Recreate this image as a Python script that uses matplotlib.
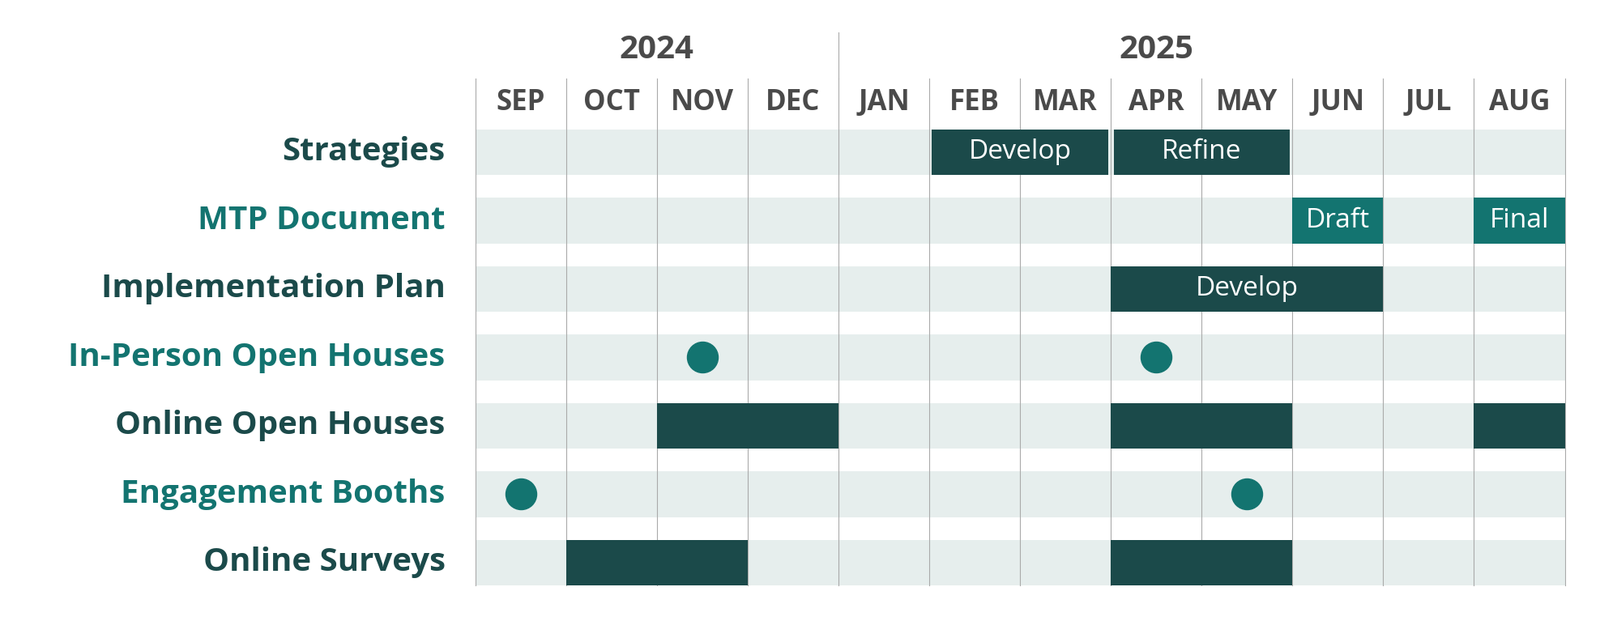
import matplotlib
matplotlib.use("Agg")
import matplotlib.pyplot as plt
from matplotlib.patches import Rectangle

months = ["SEP","OCT","NOV","DEC","JAN","FEB","MAR","APR","MAY","JUN","JUL","AUG"]
years = [("2024", 0, 4), ("2025", 4, 12)]
rows = ["Strategies","MTP Document","Implementation Plan","In-Person Open Houses",
        "Online Open Houses","Engagement Booths","Online Surveys"]
row_colors = ["dark","teal","dark","teal","dark","teal","dark"]
# bars: (row, start, end, label, color)
bars = [(0, 5, 7, "Develop", "dark"), (0, 7, 9, "Refine", "dark"),
        (1, 9, 10, "Draft", "teal"), (1, 11, 12, "Final", "teal"),
        (2, 7, 10, "Develop", "dark"),
        (4, 2, 4, "", "dark"), (4, 7, 9, "", "dark"), (4, 11, 12, "", "dark"),
        (6, 1, 3, "", "dark"), (6, 7, 9, "", "dark")]
dots = [(3, 2.5), (3, 7.5), (5, 0.5), (5, 8.5)]

C = {"dark": "#1b4a4a", "teal": "#137470"}
BAND = "#e6eeed"
GRID = "#aaaaaa"
TXT = "#4a4a4a"
FONT = "Open Sans"

fig = plt.figure(figsize=(19.75, 7.67), dpi=100)
ax = fig.add_axes([0.297, 0.057, 0.681, 0.735])
ax.set_xlim(0, 12)
h = 0.67
ax.set_ylim(len(rows) - 1 + h / 2, -h / 2)
ax.axis("off")

for i, r in enumerate(rows):
    ax.add_patch(Rectangle((0, i - h / 2), 12, h, color=BAND, zorder=0, lw=0))
    ax.text(-0.33, i, r, ha="right", va="center", fontsize=29, fontweight="bold",
            color=C[row_colors[i]], family=FONT)

for m in range(13):
    ax.plot([m, m], [-1.07, len(rows) - 1 + h / 2], color=GRID, lw=0.8, zorder=1, clip_on=False)
for j, mo in enumerate(months):
    ax.text(j + 0.5, -0.72, mo, ha="center", va="center", fontsize=25, fontweight="bold",
            color=TXT, family=FONT)
for y, s, e in years:
    ax.text((s + e) / 2 - (0.0 if s == 0 else 0.5), -1.5, y, ha="center", va="center", fontsize=29,
            fontweight="bold", color=TXT, family=FONT)
ax.plot([4, 4], [-1.75, -1.07], color=GRID, lw=0.8, clip_on=False)

for r, s, e, lab, c in bars:
    g = 0.03 if r == 0 else 0.0
    ax.add_patch(Rectangle((s + g, r - h / 2), e - s - 2 * g, h, color=C[c], zorder=2, lw=0))
    if lab:
        ax.text((s + e) / 2, r, lab, ha="center", va="center", fontsize=24, color="white",
                family=FONT, zorder=3)

for r, x in dots:
    ax.scatter([x], [r], s=750, color=C["teal"], zorder=3)

fig.savefig("out.png", dpi=100, facecolor="white")
